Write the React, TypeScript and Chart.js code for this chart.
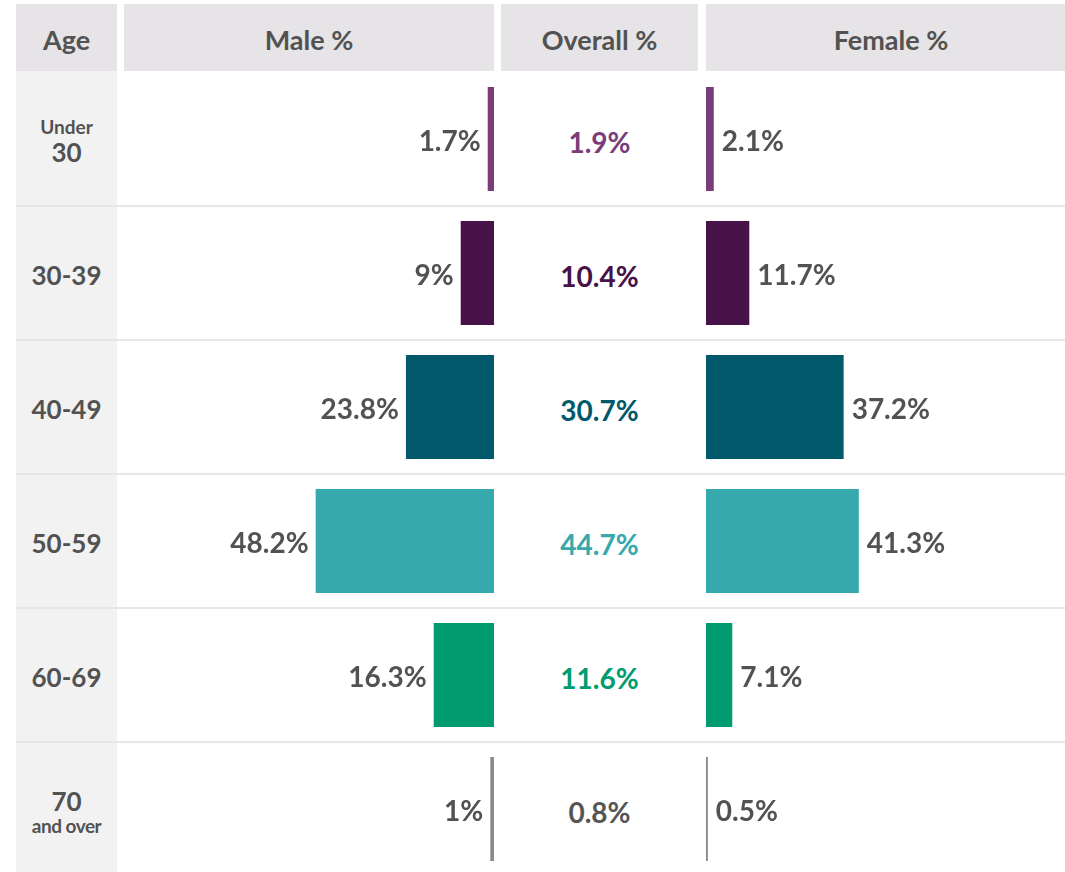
import React, { useEffect, useRef } from "react";
import { Chart, registerables } from "chart.js";

Chart.register(...registerables);

const ageTop = ["Under", "", "", "", "", ""];
const ageMain = ["30", "30-39", "40-49", "50-59", "60-69", "70"];
const ageBottom = ["", "", "", "", "", "and over"];
const maleValues = [1.7, 9, 23.8, 48.2, 16.3, 1];
const overallValues = [1.9, 10.4, 30.7, 44.7, 11.6, 0.8];
const femaleValues = [2.1, 11.7, 37.2, 41.3, 7.1, 0.5];
const headers = ["Age", "Male %", "Overall %", "Female %"];

const barColors = ["#7a3c79", "#461247", "#005a6b", "#37a9ac", "#009c6f", "#8a8a8a"];
const overallTextColors = ["#7a3c79", "#461247", "#005a6b", "#37a9ac", "#009c6f", "#555555"];

const FONT = "Lato, 'Noto Sans', sans-serif";
const TEXT = "#525252";
const ROW_TOP = 72;
const ROW_H = 134;
const COL_W = 370;

function fmt(v: number) {
  return v + "%";
}

function BarCol({ values, side, left }: { values: number[]; side: "male" | "female"; left: number }) {
  const ref = useRef<HTMLCanvasElement | null>(null);
  useEffect(() => {
    if (!ref.current) return;
    const labelPlugin = {
      id: "valueLabels",
      afterDatasetsDraw(chart: any) {
        const ctx = chart.ctx;
        const meta = chart.getDatasetMeta(0);
        ctx.save();
        ctx.font = "bold 28px " + FONT;
        ctx.fillStyle = TEXT;
        ctx.textBaseline = "middle";
        meta.data.forEach((bar: any, i: number) => {
          const { x, y } = bar.getProps(["x", "y"], true);
          if (side === "male") {
            ctx.textAlign = "right";
            ctx.fillText(fmt(values[i]), x - 7, y + 3);
          } else {
            ctx.textAlign = "left";
            ctx.fillText(fmt(values[i]), x + 8, y + 3);
          }
        });
        ctx.restore();
      },
    };
    const chart = new Chart(ref.current, {
      type: "bar",
      data: {
        labels: ageMain,
        datasets: [
          {
            data: values,
            backgroundColor: barColors,
            borderWidth: 0,
            barPercentage: 0.776,
            categoryPercentage: 1,
          },
        ],
      },
      options: {
        indexAxis: "y",
        responsive: false,
        animation: false,
        devicePixelRatio: 1,
        layout: { padding: 0 },
        plugins: { legend: { display: false }, tooltip: { enabled: false } },
        scales: {
          x: { display: false, min: 0, max: 100, reverse: side === "male", grid: { display: false } },
          y: { display: false, grid: { display: false } },
        },
      },
      plugins: [labelPlugin],
    });
    return () => chart.destroy();
  }, []);
  return (
    <canvas
      ref={ref}
      width={COL_W}
      height={ROW_H * 6}
      style={{ position: "absolute", left, top: ROW_TOP, width: COL_W, height: ROW_H * 6 }}
    />
  );
}

export default function App() {
  const headerBoxes = [
    { left: 16, width: 101 },
    { left: 124, width: 370 },
    { left: 501, width: 197 },
    { left: 706, width: 370 },
  ];
  return (
    <div
      style={{
        position: "fixed",
        left: 0,
        top: 0,
        width: 1065,
        height: 872,
        overflow: "hidden",
        background: "#ffffff",
        fontFamily: FONT,
        color: TEXT,
      }}
    >
      {/* age column background */}
      <div style={{ position: "absolute", left: 16, top: 71, width: 101, height: 820, background: "#f2f2f2" }} />
      {headerBoxes.map((b, i) => (
        <div
          key={i}
          style={{
            position: "absolute",
            left: b.left,
            top: 4,
            width: b.width,
            height: 67,
            background: "#e6e4e6",
            display: "flex",
            alignItems: "center",
            justifyContent: "center",
            fontWeight: 700,
            fontSize: 27,
            paddingTop: 4,
            boxSizing: "border-box",
          }}
        >
          {headers[i]}
        </div>
      ))}
      {/* row separators */}
      {[1, 2, 3, 4, 5].map((k) => (
        <div
          key={k}
          style={{
            position: "absolute",
            left: 16,
            top: ROW_TOP + ROW_H * k - 1,
            width: 1060,
            height: 2,
            background: "#e6e6e6",
          }}
        />
      ))}
      {/* age labels */}
      {ageMain.map((a, i) => (
        <div
          key={i}
          style={{
            position: "absolute",
            left: 16,
            top: ROW_TOP + ROW_H * i,
            width: 101,
            height: ROW_H,
            display: "flex",
            flexDirection: "column",
            alignItems: "center",
            justifyContent: "center",
            fontWeight: 700,
            lineHeight: 1,
            paddingTop: 4,
            boxSizing: "border-box",
          }}
        >
          {ageTop[i] && <div style={{ fontSize: 19, marginBottom: 3 }}>{ageTop[i]}</div>}
          <div style={{ fontSize: 26 }}>{a}</div>
          {ageBottom[i] && <div style={{ fontSize: 19, marginTop: 2, letterSpacing: -0.5 }}>{ageBottom[i]}</div>}
        </div>
      ))}
      {/* overall values */}
      {overallValues.map((v, i) => (
        <div
          key={i}
          style={{
            position: "absolute",
            left: 501,
            top: ROW_TOP + ROW_H * i,
            width: 197,
            height: ROW_H,
            display: "flex",
            alignItems: "center",
            justifyContent: "center",
            fontWeight: 700,
            fontSize: 28,
            paddingTop: 6,
            boxSizing: "border-box",
            color: overallTextColors[i],
          }}
        >
          {fmt(v)}
        </div>
      ))}
      <BarCol values={maleValues} side="male" left={124} />
      <BarCol values={femaleValues} side="female" left={706} />
    </div>
  );
}
